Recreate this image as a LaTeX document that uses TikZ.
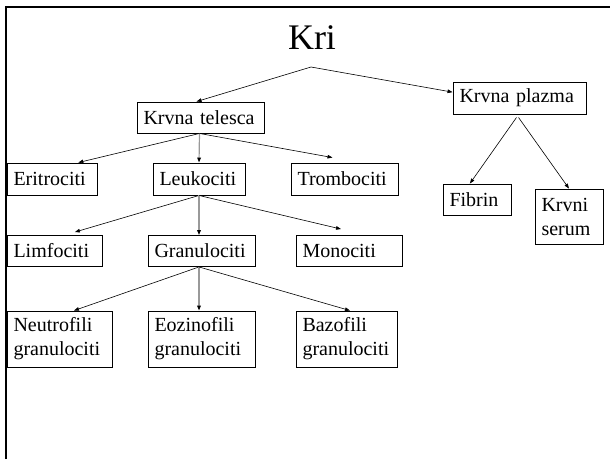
\documentclass[tikz,border=0pt]{standalone}
\usepackage{fontspec}
\setmainfont{Liberation Serif}
\usetikzlibrary{calc,arrows.meta}
\tikzset{
  frame line/.style={line width=2.6pt,black},
  title text/.style={font=\fontsize{36}{40}\selectfont,inner sep=0pt},
  cell box/.style={draw,line width=0.9pt,inner xsep=6.5pt,inner ysep=0pt,text width=#1,align=left,font=\fontsize{20}{24}\selectfont},
  link arrow/.style={line width=0.6pt,black,-{Triangle[length=5pt,width=3.6pt]}},
  stem arrow/.style={line width=1.2pt,black!40,-{Triangle[length=5pt,width=3.6pt,color=black]}},
}

\begin{document}
\begin{tikzpicture}[x=1pt,y=-1pt]
\useasboundingbox (0,0) rectangle (610,459);
\draw[frame line] (6,459) -- (6,7) -- (610,7);
\node[title text] (kri) at (312,38) {Kri};
\coordinate (kriroot) at (311,67);
\node[cell box=114pt,minimum height=31pt] (telesca) at (200.5,117.5) {Krvna telesca};
\node[cell box=120pt,minimum height=32pt] (plazma) at (519.5,98) {Krvna plazma};
\node[cell box=77pt,minimum height=32pt] (eritro) at (52,179) {Eritrociti};
\node[cell box=79pt,minimum height=32pt] (leuko) at (199,179) {Leukociti};
\node[cell box=94pt,minimum height=32pt] (trombo) at (344.5,179) {Trombociti};
\node[cell box=82pt,minimum height=31pt] (limfo) at (54.5,251) {Limfociti};
\node[cell box=94pt,minimum height=31pt] (granulo) at (201.5,251) {Granulociti};
\node[cell box=93pt,minimum height=31pt] (mono) at (349,251) {Monociti};
\node[cell box=92pt,minimum height=56pt] (neutro) at (59.5,339) {Neutrofili\\granulociti};
\node[cell box=94pt,minimum height=56pt] (eozino) at (201.5,339) {Eozinofili\\granulociti};
\node[cell box=88pt,minimum height=56pt] (bazo) at (346.5,339) {Bazofili\\granulociti};
\node[cell box=55pt,minimum height=31pt] (fibrin) at (477,199.5) {Fibrin};
\node[cell box=55pt,minimum height=55pt] (serum) at (569,216.5) {Krvni\\serum};
\coordinate (telescaroot) at ($(telesca.south)+(-1,0)$);
\coordinate (granuloroot) at ($(granulo.south)+(-2.5,0)$);
\draw[link arrow] (kriroot) -- ($(telesca.north)+(-4,0)$);
\draw[link arrow] (kriroot) -- (plazma.175);
\draw[link arrow] (telescaroot) -- (eritro.32);
\draw[stem arrow] (telescaroot) -- (leuko.north);
\draw[link arrow] (telescaroot) -- ($(trombo.north)+(-12,-5)$);
\draw[link arrow] (leuko.south) -- ($(limfo.38)+(0,-3)$);
\draw[stem arrow] (leuko.south) -- (leuko.south |- granulo.north);
\draw[link arrow] (leuko.south) -- ($(mono.north)+(-8,-6)$);
\draw[link arrow] (granuloroot) -- (neutro.63);
\draw[stem arrow] (granuloroot) -- (granuloroot |- eozino.north);
\draw[link arrow] (granuloroot) -- ($(bazo.north)+(3.5,0)$);
\draw[link arrow] ($(plazma.south)+(-3,3)$) -- (fibrin.114);
\draw[link arrow] ($(plazma.south)+(-1,3)$) -- (serum.north);
\end{tikzpicture}
\end{document}
